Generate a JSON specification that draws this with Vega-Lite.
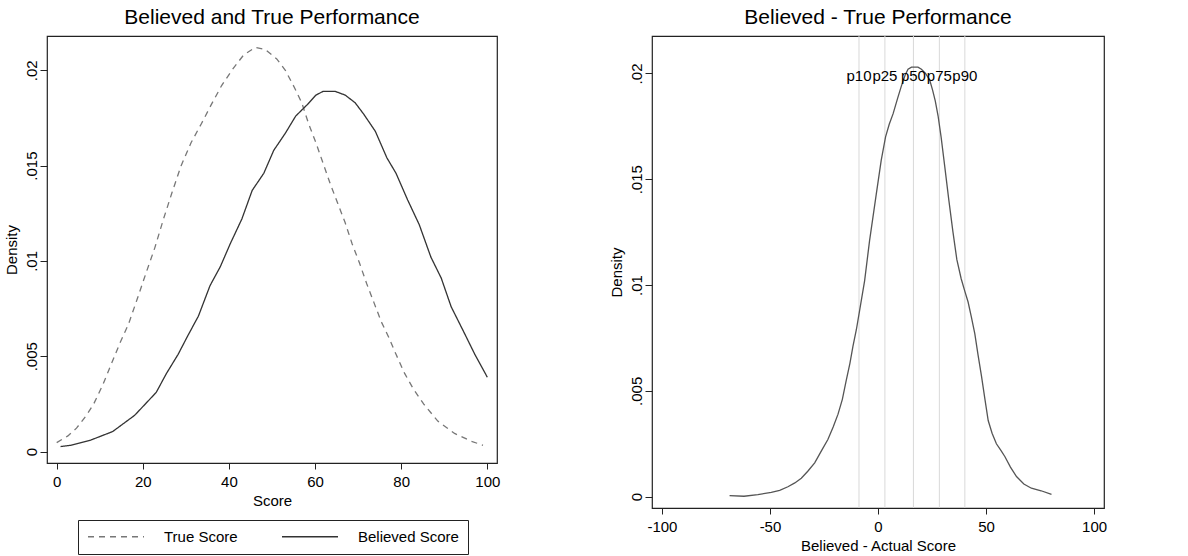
{
  "$schema": "https://vega.github.io/schema/vega-lite/v6.json",
  "background": "white",
  "padding": {"left": 3, "top": 5, "right": 5, "bottom": 0},
  "spacing": 107,
  "datasets": {
    "left": [
      {"series": "True Score", "score": 0, "density": 0.00047},
      {"series": "True Score", "score": 2.6, "density": 0.00082},
      {"series": "True Score", "score": 4.6, "density": 0.00123},
      {"series": "True Score", "score": 6.9, "density": 0.0019},
      {"series": "True Score", "score": 8.6, "density": 0.0025},
      {"series": "True Score", "score": 10.7, "density": 0.0035},
      {"series": "True Score", "score": 12.7, "density": 0.0046},
      {"series": "True Score", "score": 14.7, "density": 0.0057},
      {"series": "True Score", "score": 16.7, "density": 0.0067},
      {"series": "True Score", "score": 18.7, "density": 0.008},
      {"series": "True Score", "score": 20.8, "density": 0.0094},
      {"series": "True Score", "score": 22.8, "density": 0.0107},
      {"series": "True Score", "score": 24.8, "density": 0.0122},
      {"series": "True Score", "score": 26.8, "density": 0.0136},
      {"series": "True Score", "score": 28.9, "density": 0.015},
      {"series": "True Score", "score": 31.2, "density": 0.0162},
      {"series": "True Score", "score": 33.6, "density": 0.0172},
      {"series": "True Score", "score": 35.9, "density": 0.0182},
      {"series": "True Score", "score": 38.3, "density": 0.0192},
      {"series": "True Score", "score": 41, "density": 0.0201},
      {"series": "True Score", "score": 43.4, "density": 0.0208},
      {"series": "True Score", "score": 46.1, "density": 0.0212},
      {"series": "True Score", "score": 48.4, "density": 0.0211},
      {"series": "True Score", "score": 51.1, "density": 0.0206},
      {"series": "True Score", "score": 53.1, "density": 0.02},
      {"series": "True Score", "score": 55.2, "density": 0.0191},
      {"series": "True Score", "score": 56.9, "density": 0.0183},
      {"series": "True Score", "score": 58.5, "density": 0.0172},
      {"series": "True Score", "score": 60.2, "density": 0.0162},
      {"series": "True Score", "score": 61.9, "density": 0.0151},
      {"series": "True Score", "score": 63.6, "density": 0.014},
      {"series": "True Score", "score": 65.3, "density": 0.013},
      {"series": "True Score", "score": 67, "density": 0.012},
      {"series": "True Score", "score": 68.6, "density": 0.0109},
      {"series": "True Score", "score": 70.3, "density": 0.0099},
      {"series": "True Score", "score": 72, "density": 0.0088},
      {"series": "True Score", "score": 73.7, "density": 0.0078},
      {"series": "True Score", "score": 75.4, "density": 0.0068},
      {"series": "True Score", "score": 77.1, "density": 0.006},
      {"series": "True Score", "score": 78.8, "density": 0.0051},
      {"series": "True Score", "score": 80.8, "density": 0.0041},
      {"series": "True Score", "score": 82.8, "density": 0.0033},
      {"series": "True Score", "score": 85.2, "density": 0.0025},
      {"series": "True Score", "score": 88.5, "density": 0.0016},
      {"series": "True Score", "score": 92.4, "density": 0.00095},
      {"series": "True Score", "score": 96.3, "density": 0.00054},
      {"series": "True Score", "score": 99, "density": 0.00033},
      {"series": "Believed Score", "score": 0.9, "density": 0.00026},
      {"series": "Believed Score", "score": 3.2, "density": 0.00033},
      {"series": "Believed Score", "score": 8, "density": 0.00061},
      {"series": "Believed Score", "score": 13, "density": 0.00105},
      {"series": "Believed Score", "score": 18.1, "density": 0.0019},
      {"series": "Believed Score", "score": 23.1, "density": 0.0031},
      {"series": "Believed Score", "score": 25.5, "density": 0.0041},
      {"series": "Believed Score", "score": 28.2, "density": 0.0051},
      {"series": "Believed Score", "score": 30.5, "density": 0.0061},
      {"series": "Believed Score", "score": 32.9, "density": 0.0071},
      {"series": "Believed Score", "score": 35.6, "density": 0.0087},
      {"series": "Believed Score", "score": 38, "density": 0.0097},
      {"series": "Believed Score", "score": 40.3, "density": 0.0109},
      {"series": "Believed Score", "score": 43, "density": 0.0122},
      {"series": "Believed Score", "score": 45.4, "density": 0.0137},
      {"series": "Believed Score", "score": 48.1, "density": 0.0146},
      {"series": "Believed Score", "score": 50.4, "density": 0.0158},
      {"series": "Believed Score", "score": 53.1, "density": 0.0167},
      {"series": "Believed Score", "score": 55.5, "density": 0.0176},
      {"series": "Believed Score", "score": 58.2, "density": 0.0182},
      {"series": "Believed Score", "score": 60.2, "density": 0.0187},
      {"series": "Believed Score", "score": 61.9, "density": 0.0189},
      {"series": "Believed Score", "score": 64.6, "density": 0.0189},
      {"series": "Believed Score", "score": 67, "density": 0.0187},
      {"series": "Believed Score", "score": 69.3, "density": 0.0183},
      {"series": "Believed Score", "score": 71.3, "density": 0.0177},
      {"series": "Believed Score", "score": 74, "density": 0.0168},
      {"series": "Believed Score", "score": 76.7, "density": 0.0154},
      {"series": "Believed Score", "score": 78.8, "density": 0.0146},
      {"series": "Believed Score", "score": 81.5, "density": 0.0132},
      {"series": "Believed Score", "score": 84.2, "density": 0.0119},
      {"series": "Believed Score", "score": 86.9, "density": 0.0102},
      {"series": "Believed Score", "score": 89.3, "density": 0.0091},
      {"series": "Believed Score", "score": 91.6, "density": 0.0076},
      {"series": "Believed Score", "score": 94.7, "density": 0.0062},
      {"series": "Believed Score", "score": 97.1, "density": 0.0051},
      {"series": "Believed Score", "score": 100, "density": 0.0039}
    ],
    "diff": [
      {"diff": -68.7, "density": 0.00005},
      {"diff": -62, "density": 0.00002},
      {"diff": -55.6, "density": 0.0001},
      {"diff": -49.4, "density": 0.0002},
      {"diff": -45.5, "density": 0.0003},
      {"diff": -41.7, "density": 0.00047},
      {"diff": -38.5, "density": 0.00065},
      {"diff": -35.5, "density": 0.00087},
      {"diff": -32.5, "density": 0.0012},
      {"diff": -29.3, "density": 0.0016},
      {"diff": -26, "density": 0.0022},
      {"diff": -23.2, "density": 0.0027},
      {"diff": -20.7, "density": 0.0033},
      {"diff": -18.5, "density": 0.0039},
      {"diff": -16.5, "density": 0.0046},
      {"diff": -14.7, "density": 0.0055},
      {"diff": -13, "density": 0.0063},
      {"diff": -11.6, "density": 0.0071},
      {"diff": -10, "density": 0.0079},
      {"diff": -8.5, "density": 0.0088},
      {"diff": -6.2, "density": 0.0102},
      {"diff": -3.9, "density": 0.0121},
      {"diff": -0.8, "density": 0.0143},
      {"diff": 1.5, "density": 0.0159},
      {"diff": 3.5, "density": 0.017},
      {"diff": 5.2, "density": 0.0176},
      {"diff": 7, "density": 0.0181},
      {"diff": 9, "density": 0.0188},
      {"diff": 10.8, "density": 0.0194},
      {"diff": 12.5, "density": 0.0199},
      {"diff": 13.9, "density": 0.0202},
      {"diff": 15.5, "density": 0.0203},
      {"diff": 17, "density": 0.0203},
      {"diff": 18.5, "density": 0.0203},
      {"diff": 20.1, "density": 0.0202},
      {"diff": 22, "density": 0.02},
      {"diff": 23.9, "density": 0.0197},
      {"diff": 25.3, "density": 0.0192},
      {"diff": 26.5, "density": 0.0187},
      {"diff": 27.8, "density": 0.018},
      {"diff": 29.2, "density": 0.017},
      {"diff": 30.9, "density": 0.0156},
      {"diff": 32.8, "density": 0.014},
      {"diff": 34.7, "density": 0.0125},
      {"diff": 36.5, "density": 0.0112},
      {"diff": 38.5, "density": 0.0103},
      {"diff": 40.2, "density": 0.0097},
      {"diff": 41.7, "density": 0.0092},
      {"diff": 43.2, "density": 0.0085},
      {"diff": 44.8, "density": 0.0077},
      {"diff": 46.3, "density": 0.0067},
      {"diff": 47.9, "density": 0.0057},
      {"diff": 49.5, "density": 0.0046},
      {"diff": 51, "density": 0.0036},
      {"diff": 52.8, "density": 0.003},
      {"diff": 54.8, "density": 0.0025},
      {"diff": 56.8, "density": 0.0022},
      {"diff": 58.7, "density": 0.0019},
      {"diff": 61.3, "density": 0.0014},
      {"diff": 64.1, "density": 0.00095},
      {"diff": 67.5, "density": 0.0006},
      {"diff": 71, "density": 0.0004},
      {"diff": 75.5, "density": 0.00028},
      {"diff": 80.3, "density": 0.00011}
    ],
    "pct": [
      {"label": "p10", "value": -8.8},
      {"label": "p25", "value": 3.2},
      {"label": "p50", "value": 16.4},
      {"label": "p75", "value": 28.4},
      {"label": "p90", "value": 40.2}
    ]
  },
  "hconcat": [
    {
      "width": 450,
      "height": 427,
      "title": {"text": "Believed and True Performance"},
      "data": {"name": "left"},
      "mark": {"type": "line", "strokeWidth": 1.3},
      "encoding": {
        "x": {
          "field": "score", "type": "quantitative",
          "scale": {"domain": [-2.25, 102.25], "nice": false, "zero": false},
          "axis": {"values": [0, 20, 40, 60, 80, 100], "title": "Score"}
        },
        "y": {
          "field": "density", "type": "quantitative",
          "scale": {"domain": [-0.0006, 0.0218], "nice": false, "zero": false},
          "axis": {
            "values": [0, 0.005, 0.01, 0.015, 0.02],
            "title": "Density",
            "labelExpr": "datum.value == 0 ? '0' : slice(format(datum.value, '.3~f'), 1)"
          }
        },
        "color": {
          "field": "series", "type": "nominal",
          "scale": {"domain": ["True Score", "Believed Score"], "range": ["#777777", "#333333"]},
          "legend": {
            "title": null, "orient": "none", "legendX": 31, "legendY": 484,
            "direction": "horizontal", "symbolType": "stroke", "symbolSize": 3136,
            "symbolStrokeWidth": 1.3, "labelFontSize": 15, "labelFont": "Liberation Sans",
            "labelColor": "black", "labelOffset": 19, "columnPadding": 43, "padding": 9,
            "strokeColor": "#222222", "fillColor": "white", "clipHeight": 15, "labelLimit": 0
          }
        },
        "strokeDash": {
          "field": "series", "type": "nominal",
          "scale": {"domain": ["True Score", "Believed Score"], "range": [[6, 5], [1, 0]]},
          "legend": {
            "title": null, "orient": "none", "legendX": 31, "legendY": 484,
            "direction": "horizontal", "symbolType": "stroke", "symbolSize": 3136,
            "symbolStrokeWidth": 1.3, "labelFontSize": 15, "labelFont": "Liberation Sans",
            "labelColor": "black", "labelOffset": 19, "columnPadding": 43, "padding": 9,
            "strokeColor": "#222222", "fillColor": "white", "clipHeight": 15, "labelLimit": 0
          }
        }
      }
    },
    {
      "width": 452,
      "height": 472,
      "title": {"text": "Believed - True Performance"},
      "encoding": {
        "x": {
          "type": "quantitative",
          "scale": {"domain": [-104.6, 104.6], "nice": false, "zero": false},
          "axis": {
            "values": [-100, -50, 0, 50, 100],
            "title": "Believed - Actual Score",
            "labelExpr": "datum.value < 0 ? '-' + toString(-datum.value) : toString(datum.value)"
          }
        }
      },
      "layer": [
        {
          "data": {"name": "pct"},
          "mark": {"type": "rule", "color": "#d9d9d9", "strokeWidth": 1},
          "encoding": {"x": {"field": "value", "type": "quantitative"}}
        },
        {
          "data": {"name": "diff"},
          "mark": {"type": "line", "color": "#555555", "strokeWidth": 1.3},
          "encoding": {
            "x": {"field": "diff", "type": "quantitative"},
            "y": {
              "field": "density", "type": "quantitative",
              "scale": {"domain": [-0.000535, 0.02177], "nice": false, "zero": false},
              "axis": {
                "values": [0, 0.005, 0.01, 0.015, 0.02],
                "title": "Density",
                "labelExpr": "datum.value == 0 ? '0' : slice(format(datum.value, '.3~f'), 1)"
              }
            }
          }
        },
        {
          "data": {"name": "pct"},
          "mark": {"type": "text", "fontSize": 15, "font": "Liberation Sans", "color": "black", "align": "center", "baseline": "middle"},
          "encoding": {
            "x": {"field": "value", "type": "quantitative"},
            "y": {"datum": 0.0199},
            "text": {"field": "label"}
          }
        }
      ]
    }
  ],
  "resolve": {"scale": {"color": "independent", "strokeDash": "independent"}},
  "config": {
    "font": "Liberation Sans",
    "view": {"stroke": "#222222", "strokeWidth": 1.2},
    "title": {"font": "Liberation Sans", "fontSize": 21, "fontWeight": "normal", "color": "black", "frame": "group", "anchor": "middle", "offset": 8},
    "axis": {
      "labelFont": "Liberation Sans", "labelFontSize": 15, "labelColor": "black",
      "titleFont": "Liberation Sans", "titleFontSize": 15, "titleFontWeight": "normal", "titleColor": "black",
      "tickColor": "#222222", "tickWidth": 1, "domain": false, "grid": false,
      "labelFlush": false, "labelOverlap": false
    },
    "axisX": {"tickSize": 6, "labelPadding": 5, "titlePadding": 4},
    "axisY": {"tickSize": 7, "labelAngle": -90, "labelAlign": "center", "labelBaseline": "alphabetic", "labelPadding": 4, "titlePadding": 5}
  }
}
